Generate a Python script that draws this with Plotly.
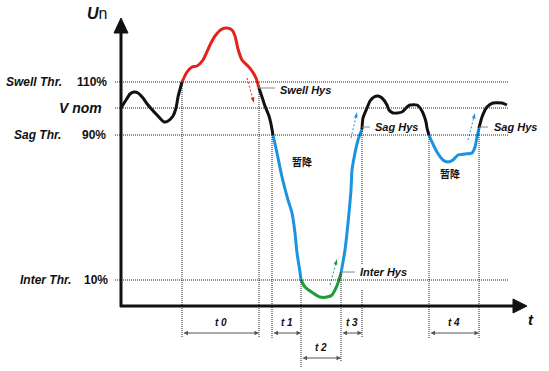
import plotly.graph_objects as go

# ---- data (time t, voltage level U in schematic units; origin = axes corner) ----
# threshold levels
U_SWELL = 224
U_NOM = 198
U_SAG = 171
U_INTER = 26
U_SWELL_HYS = 218
U_SAG_HYS = 179
U_INTER_HYS = 34

level_labels = ["Swell Thr.", "V nom", "Sag Thr.", "Inter Thr."]
level_pct = ["110%", "", "90%", "10%"]
level_values = [U_SWELL, U_NOM, U_SAG, U_INTER]

# curve segments
black1_t = [0, 5, 9, 13, 17, 22, 27, 36, 43, 47, 52, 55, 57, 61]
black1_u = [198, 206, 212, 214, 213, 208, 201, 191, 184, 185, 190, 198, 209, 224]
red_t = [61, 66, 71, 76, 82, 89, 94, 101, 106, 111, 114, 117, 121, 127, 131, 135, 138]
red_u = [224, 234, 239, 240, 246, 261, 270, 277, 278, 276, 270, 257, 246, 240, 235, 228, 218]
black2_t = [138, 141, 144, 148, 150, 152]
black2_u = [218, 209, 200, 190, 182, 171]
blue1_t = [152, 156, 161, 167, 171, 174, 176, 179, 180]
blue1_u = [171, 153, 129, 106, 93, 73, 53, 34, 26]
green_t = [180, 184, 192, 199, 206, 211, 214, 217, 220]
green_u = [26, 19, 13, 9, 9, 11, 16, 23, 33]
blue2_t = [220, 224, 227, 230, 231, 234, 237, 241]
blue2_u = [33, 56, 83, 116, 136, 153, 166, 177]
black3_t = [241, 242, 246, 249, 253, 257, 261, 266, 268, 272, 281, 286, 289, 296, 301, 305, 306, 308]
black3_u = [177, 188, 198, 205, 209, 210, 208, 201, 196, 193, 194, 199, 201, 201, 195, 184, 178, 171]
blue3_t = [308, 311, 316, 322, 327, 332, 337, 344, 351, 354, 356, 358]
blue3_u = [171, 164, 154, 146, 144, 146, 151, 152, 153, 159, 169, 178]
black4_t = [358, 361, 366, 372, 381, 386]
black4_u = [178, 189, 199, 203, 203, 201]

# event boundaries (time) and interval labels
t_marks = [61, 138, 151, 180, 220, 241, 308, 358]
intervals = [("t 0", 61, 138, -27), ("t 1", 151, 180, -27), ("t 2", 180, 220, -52),
             ("t 3", 220, 241, -27), ("t 4", 308, 358, -27)]

BLACK = "#111111"
RED = "#e3221b"
BLUE = "#1c93e0"
GREEN = "#1d9c3c"
FONT = "Arial, Liberation Sans, sans-serif"

fig = go.Figure()

def seg(t, u, color):
    fig.add_trace(go.Scatter(x=t, y=u, mode="lines", line=dict(color=color, width=3, shape="spline", smoothing=0.6),
                             hoverinfo="skip"))

shapes = []
DOT = "1px,1px"
# horizontal threshold lines
for lv in level_values:
    shapes.append(dict(type="line", x0=-6, x1=387, y0=lv, y1=lv, line=dict(color="#222", width=1, dash=DOT)))
# vertical event lines
vlines = [(61, U_SWELL, -32), (138, U_SWELL_HYS, -32), (151, U_SAG, -32), (180, U_INTER, -62),
          (220, U_INTER_HYS, -56), (241, U_SAG_HYS, 41), (241, 16, -32), (308, U_SAG, -32), (358, U_SAG_HYS, -32)]
for x, y0, y1 in vlines:
    shapes.append(dict(type="line", x0=x, x1=x, y0=y0, y1=y1, line=dict(color="#222", width=1, dash=DOT)))
# hysteresis leader lines
leaders = [(138, 154, U_SWELL_HYS), (241, 249, U_SAG_HYS), (358, 367, U_SAG_HYS), (220, 234, U_INTER_HYS)]
for x0, x1, y in leaders:
    shapes.append(dict(type="line", x0=x0, x1=x1, y0=y, y1=y, line=dict(color="#888", width=1)))
# axes with arrow heads
shapes.append(dict(type="line", x0=0, x1=0, y0=-1, y1=274, line=dict(color=BLACK, width=3)))
shapes.append(dict(type="path", path="M -7,273 L 7,273 L 0,288 Z", fillcolor=BLACK, line=dict(color=BLACK, width=1)))
shapes.append(dict(type="line", x0=-1, x1=393, y0=0, y1=0, line=dict(color=BLACK, width=3)))
shapes.append(dict(type="path", path="M 392,-7 L 392,7 L 406,0 Z", fillcolor=BLACK, line=dict(color=BLACK, width=1)))

for t, u, c in [(black1_t, black1_u, BLACK), (red_t, red_u, RED), (black2_t, black2_u, BLACK),
                (blue1_t, blue1_u, BLUE), (green_t, green_u, GREEN), (blue2_t, blue2_u, BLUE),
                (black3_t, black3_u, BLACK), (blue3_t, blue3_u, BLUE), (black4_t, black4_u, BLACK)]:
    seg(t, u, c)

# small dashed direction arrows
hints = [([126, 133], [228, 203], RED), ([230, 236], [168, 194], BLUE),
         ([347, 354], [166, 193], BLUE), ([209, 216], [21, 47], GREEN)]
for hx, hy, c in hints:
    fig.add_trace(go.Scatter(x=hx, y=hy, mode="lines+markers", line=dict(color=c, width=1, dash="2px,2px"),
                             marker=dict(symbol="arrow", angleref="previous", size=[0, 6], color=c,
                                         opacity=[0, 1], line=dict(width=0)),
                             hoverinfo="skip"))

ann = []
def txt(x, y, s, size=12, xanchor="center", bold=True, italic=True, family=FONT, color="#111"):
    s2 = s
    if italic:
        s2 = "<i>" + s2 + "</i>"
    if bold:
        s2 = "<b>" + s2 + "</b>"
    ann.append(dict(x=x, y=y, text=s2, showarrow=False, xanchor=xanchor, yanchor="middle",
                    font=dict(family=family, size=size, color=color)))

for name, pct, lv in zip(level_labels, level_pct, level_values):
    if name == "V nom":
        txt(-17, lv, name, size=14, xanchor="right")
    else:
        txt({"Swell Thr.": -57, "Sag Thr.": -58, "Inter Thr.": -48}[name], lv, name, size=12, xanchor="right")
        txt({"110%": -12, "90%": -13, "10%": -11}[pct], lv, pct, size=12, xanchor="right", italic=False)

txt(157, 216, "Swell Hys", size=11, xanchor="left")
txt(252, 179, "Sag Hys", size=11, xanchor="left")
txt(371, 179, "Sag Hys", size=11, xanchor="left")
txt(237, 34, "Inter Hys", size=11, xanchor="left")
txt(181, 145, "暂降", size=10, family="Noto Sans CJK SC", italic=False)
txt(329, 133, "暂降", size=10, family="Noto Sans CJK SC", italic=False)
txt(410, -13, "t", size=15)
ann.append(dict(x=-24, y=293, text="<b><i>U</i></b>n", showarrow=False, xanchor="center", yanchor="middle",
                font=dict(family=FONT, size=16, color="#111")))

for lab, a, b, y in intervals:
    ann.append(dict(x=b, y=y, ax=a, ay=y, axref="x", ayref="y", xref="x", yref="y", text="",
                    showarrow=True, arrowhead=2, arrowside="end+start", arrowsize=0.9, arrowwidth=1,
                    arrowcolor="#555"))
    txt((a + b) / 2, y + 11, lab, size=10)

fig.update_layout(width=549, height=371, margin=dict(l=0, r=0, t=0, b=0),
                  paper_bgcolor="white", plot_bgcolor="white", showlegend=False,
                  xaxis=dict(range=[-121, 428], visible=False, fixedrange=True),
                  yaxis=dict(range=[-65, 306], visible=False, fixedrange=True),
                  shapes=shapes, annotations=ann)

fig.write_html("out.html", config={"displayModeBar": False},
               post_script="document.body.style.margin='0';document.body.style.overflow='hidden';")
